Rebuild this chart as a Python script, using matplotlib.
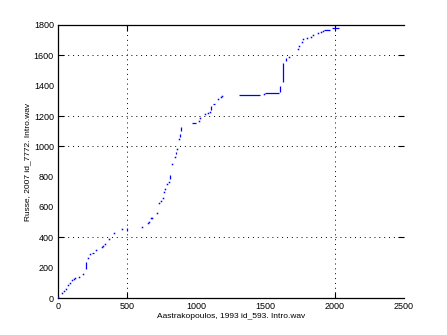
import matplotlib
matplotlib.use("Agg")
import matplotlib.pyplot as plt

plt.rcParams['font.family'] = ['Liberation Sans', 'DejaVu Sans']

# matched onset times (x: reference annotation, y: second annotation)
pts_x = [2, 31, 41, 56, 74, 85, 103, 113, 123, 152, 181, 215, 233, 272, 316, 325,
         340, 368, 402, 460, 605, 653, 658, 670, 677, 715, 732, 747, 756, 763, 771,
         790, 800, 826, 848, 862, 877, 1021, 1028, 1064, 1086, 1100, 1158, 1180,
         1187, 1491, 1671, 1736, 1744, 1761, 1772, 1797, 1828, 1845, 1881, 1898, 1917]
pts_y = [9, 31, 44, 57, 84, 97, 119, 125, 130, 136, 156, 262, 288, 314, 336, 345,
         354, 389, 427, 453, 470, 492, 503, 525, 530, 558, 624, 640, 661, 697, 717,
         750, 763, 881, 928, 980, 1046, 1169, 1185, 1211, 1222, 1228, 1310, 1327,
         1334, 1343, 1587, 1645, 1662, 1685, 1707, 1716, 1723, 1734, 1745, 1756, 1763]

# dense runs of points that show up as short line pieces
seg_x0 = [204, 244, 499, 812, 855, 884, 889, 970, 1108, 1120, 1308, 1496, 1606, 1628, 1648, 1922, 1977]
seg_x1 = [204, 258, 499, 812, 855, 884, 889, 995, 1108, 1135, 1460, 1597, 1606, 1628, 1648, 1965, 2030]
seg_y0 = [193, 299, 445, 783, 947, 1063, 1100, 1152, 1239, 1277, 1336, 1350, 1358, 1426, 1565, 1767, 1778]
seg_y1 = [239, 299, 460, 811, 965, 1081, 1127, 1152, 1266, 1277, 1336, 1350, 1398, 1551, 1582, 1767, 1778]

xticks = [0, 500, 1000, 1500, 2000, 2500]
yticks = [0, 200, 400, 600, 800, 1000, 1200, 1400, 1600, 1800]
grid_x = [500, 2000]
grid_y = [400, 1000, 1200, 1600]

fig = plt.figure(figsize=(4.47, 3.35), dpi=100)
ax = fig.add_axes([58/447, 37/335, 346/447, 273/335])

for x0, x1, y0, y1 in zip(seg_x0, seg_x1, seg_y0, seg_y1):
    ax.plot([x0, x1], [y0, y1], color='blue', lw=0.9, solid_capstyle='butt', zorder=3)
ax.plot(pts_x, pts_y, 's', color='blue', markersize=1.1, markeredgewidth=0, zorder=3)

# sparse dotted grid
for gx in grid_x:
    ax.axvline(gx, color='black', lw=0.7, ls=(0, (1, 4)), zorder=1)
for gy in grid_y:
    ax.axhline(gy, color='black', lw=0.7, ls=(0, (1, 4)), zorder=1)

ax.set_xlim(0, 2500)
ax.set_ylim(0, 1800)
ax.set_xticks(xticks)
ax.set_yticks(yticks)
ax.tick_params(direction='in', length=4, width=0.8, labelsize=6.5, pad=3,
               top=True, right=True)
for t, v in zip(ax.xaxis.get_major_ticks(), xticks):
    if v not in grid_x:
        t.tick1line.set_visible(False)
        t.tick2line.set_visible(False)
for t, v in zip(ax.yaxis.get_major_ticks(), yticks):
    if v not in grid_y:
        t.tick1line.set_visible(False)
        t.tick2line.set_visible(False)

ax.spines['right'].set_visible(False)
for s in ['left', 'bottom', 'top']:
    ax.spines[s].set_linewidth(0.9)

ax.set_xlabel('Aastrakopoulos, 1993 id_593. Intro.wav', fontsize=6, labelpad=1)
ax.set_ylabel('Russe, 2007 id_7772. Intro.wav', fontsize=6, labelpad=2)

fig.savefig('out.png', dpi=100)
